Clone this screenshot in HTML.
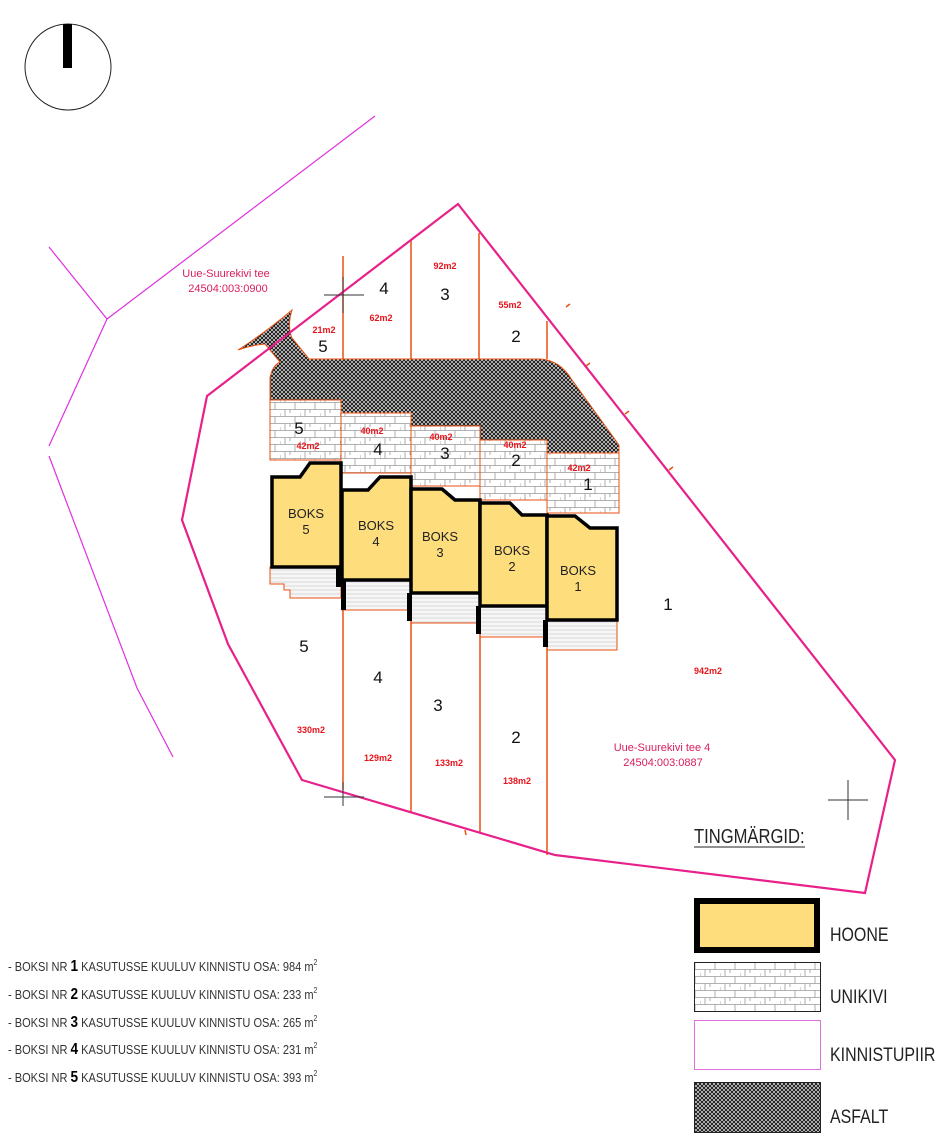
<!DOCTYPE html>
<html><head><meta charset="utf-8"><style>
html,body{margin:0;padding:0;background:#fff;}
svg{display:block;}
.n{font-family:"Liberation Sans",sans-serif;}
.r{font-family:"Liberation Sans",sans-serif;font-weight:bold;font-size:9px;fill:#e8141c;}
.d{font-family:"Liberation Sans",sans-serif;font-size:17px;fill:#111;}
.b{font-family:"Liberation Sans",sans-serif;font-size:13px;fill:#222;text-anchor:middle;}
</style></head><body>
<svg width="950" height="1141" viewBox="0 0 950 1141" xmlns="http://www.w3.org/2000/svg">
<defs>
<pattern id="uk" width="20" height="14" patternUnits="userSpaceOnUse">
<rect width="20" height="14" fill="#fff"/>
<path d="M0 3.5H20M0 10.5H20M5 3.5V10.5M15 0V3.5M15 10.5V14M10 3.5V7M0 7V10.5" stroke="#999" stroke-width="0.8" fill="none"/>
</pattern>
<pattern id="as" width="4" height="4" patternUnits="userSpaceOnUse">
<rect width="4" height="4" fill="#fff"/>
<path d="M0 0L4 4M4 0L0 4" stroke="#222" stroke-width="1.2"/>
</pattern>
<pattern id="st" width="6" height="4" patternUnits="userSpaceOnUse">
<rect width="6" height="4" fill="#f6f6f6"/><path d="M0 2H6" stroke="#ccc" stroke-width="0.7"/>
</pattern>
</defs>

<!-- north -->
<circle cx="68" cy="67" r="43" fill="none" stroke="#222" stroke-width="1"/>
<rect x="63" y="24" width="9" height="44" fill="#000"/>

<!-- neighbour lines -->
<g stroke="#e030e0" stroke-width="1.2" fill="none">
<polyline points="49,247 107,319 375,116"/>
<polyline points="107,319 49,446"/>
<polyline points="49,456 137,688 173,757"/>
</g>

<!-- asphalt -->
<path d="M238,350 Q266,332 292,310 Q287,326 292,338 L309,359 L540,359 Q560,360 572,380 L619,445 L619,453 L547,453 L547,440 L480,440 L480,426 L411,426 L411,413 L341,413 L341,400 L270,400 L270,378 Q272,366 280,362 L265,344 Q252,345 238,350 Z" fill="url(#as)" stroke="#e85010" stroke-width="1"/>

<!-- unikivi -->
<g fill="url(#uk)" stroke="#e85010" stroke-width="1">
<rect x="270" y="400" width="71" height="60"/>
<rect x="341" y="413" width="70" height="60"/>
<rect x="411" y="426" width="69" height="60"/>
<rect x="480" y="440" width="67" height="60"/>
<rect x="547" y="453" width="72" height="60"/>
</g>

<!-- stairs -->
<g fill="url(#st)" stroke="#e85010" stroke-width="1">
<path d="M270,567 H341 V598 H290 V590 H284 V584 H270 Z"/>
<path d="M342,580 H411 V610 H342 Z"/>
<path d="M411,593 H480 V623 H411 Z"/>
<path d="M480,606 H547 V637 H480 Z"/>
<path d="M547,620 H617 V650 H547 Z"/>
</g>
<g fill="#000">
<rect x="341" y="580" width="5" height="30"/><rect x="407" y="593" width="5" height="28"/>
<rect x="476" y="606" width="5" height="28"/><rect x="543" y="620" width="5" height="27"/>
<rect x="336" y="567" width="5" height="20"/>
</g>

<!-- buildings -->
<g fill="#fedd7d" stroke="#000" stroke-width="3.5" stroke-linejoin="miter">
<path d="M272,477 H300 L310,463 H341 V567 H272 Z"/>
<path d="M342,490 H368 L380,477 H411 V580 H342 Z"/>
<path d="M411,489 H442 L455,500 H480 V593 H411 Z"/>
<path d="M480,503 H510 L522,515 H547 V606 H480 Z"/>
<path d="M547,516 H575 L590,528 H617 V620 H547 Z"/>
</g>
<g class="b">
<text x="306" y="518">BOKS</text><text x="306" y="534">5</text>
<text x="376" y="530">BOKS</text><text x="376" y="546">4</text>
<text x="440" y="541">BOKS</text><text x="440" y="557">3</text>
<text x="512" y="555">BOKS</text><text x="512" y="571">2</text>
<text x="578" y="575">BOKS</text><text x="578" y="591">1</text>
</g>

<!-- orange dividers -->
<g stroke="#e85010" stroke-width="1.5">
<line x1="343" y1="256" x2="343" y2="359"/>
<line x1="411" y1="240" x2="411" y2="359"/>
<line x1="479" y1="233" x2="479" y2="359"/>
<line x1="547" y1="321" x2="547" y2="359"/>
<line x1="343" y1="610" x2="343" y2="790"/>
<line x1="411" y1="621" x2="411" y2="812"/>
<line x1="480" y1="634" x2="480" y2="833"/>
<line x1="547" y1="647" x2="547" y2="855"/>
<line x1="566" y1="307" x2="570" y2="304"/><line x1="586" y1="366" x2="590" y2="363"/>
<line x1="625" y1="414" x2="629" y2="411"/><line x1="669" y1="470" x2="673" y2="467"/>
<line x1="465" y1="830" x2="466" y2="835"/>
</g>

<!-- main parcel -->
<polygon points="458,204 895,760 865,893 555,855 302,780 228,644 182,520 207,396" fill="none" stroke="#e8208a" stroke-width="2.2"/>

<!-- crosses -->
<g stroke="#333" stroke-width="1">
<line x1="324" y1="295" x2="364" y2="295"/><line x1="343" y1="277" x2="343" y2="313"/>
<line x1="324" y1="797" x2="364" y2="797"/><line x1="343" y1="782" x2="343" y2="806"/>
<line x1="828" y1="800" x2="868" y2="800"/><line x1="848" y1="780" x2="848" y2="820"/>
</g>

<!-- labels -->
<g font-family="Liberation Sans, sans-serif" font-size="11" fill="#d81e5b" text-anchor="middle">
<text x="226" y="277">Uue-Suurekivi tee</text>
<text x="228" y="292">24504:003:0900</text>
<text x="662" y="751">Uue-Suurekivi tee 4</text>
<text x="663" y="766">24504:003:0887</text>
</g>
<g class="r" text-anchor="middle">
<text x="324" y="333">21m2</text><text x="381" y="321">62m2</text><text x="445" y="269">92m2</text><text x="510" y="308">55m2</text>
<text x="308" y="449">42m2</text><text x="372" y="434">40m2</text><text x="441" y="440">40m2</text><text x="515" y="448">40m2</text><text x="579" y="471">42m2</text>
<text x="311" y="733">330m2</text><text x="378" y="761">129m2</text><text x="449" y="766">133m2</text><text x="517" y="784">138m2</text><text x="708" y="674">942m2</text>
</g>
<g class="d" text-anchor="middle">
<text x="384" y="294">4</text><text x="445" y="300">3</text><text x="516" y="342">2</text><text x="323" y="352">5</text>
<text x="299" y="434">5</text><text x="378" y="455">4</text><text x="445" y="459">3</text><text x="516" y="466">2</text><text x="588" y="490">1</text>
<text x="304" y="652">5</text><text x="378" y="683">4</text><text x="438" y="711">3</text><text x="516" y="743">2</text><text x="668" y="610">1</text>
</g>

<!-- notes -->
<g class="n" font-size="13" fill="#333" transform="translate(8,0) scale(0.85,1)">
<text x="0" y="971">- BOKSI NR <tspan font-weight="bold" font-size="16" fill="#000">1</tspan> KASUTUSSE KUULUV KINNISTU OSA: 984 m<tspan font-size="8" dy="-6">2</tspan></text>
<text x="0" y="999">- BOKSI NR <tspan font-weight="bold" font-size="16" fill="#000">2</tspan> KASUTUSSE KUULUV KINNISTU OSA: 233 m<tspan font-size="8" dy="-6">2</tspan></text>
<text x="0" y="1027">- BOKSI NR <tspan font-weight="bold" font-size="16" fill="#000">3</tspan> KASUTUSSE KUULUV KINNISTU OSA: 265 m<tspan font-size="8" dy="-6">2</tspan></text>
<text x="0" y="1054">- BOKSI NR <tspan font-weight="bold" font-size="16" fill="#000">4</tspan> KASUTUSSE KUULUV KINNISTU OSA: 231 m<tspan font-size="8" dy="-6">2</tspan></text>
<text x="0" y="1082">- BOKSI NR <tspan font-weight="bold" font-size="16" fill="#000">5</tspan> KASUTUSSE KUULUV KINNISTU OSA: 393 m<tspan font-size="8" dy="-6">2</tspan></text>
</g>

<!-- legend -->
<g transform="translate(694,0) scale(0.83,1)">
<text class="n" x="0" y="843" font-size="20" fill="#222">TINGMÄRGID:</text>
</g>
<line x1="694" y1="847" x2="805" y2="847" stroke="#222" stroke-width="1"/>
<rect x="697" y="901" width="120" height="49" fill="#fedd7d" stroke="#000" stroke-width="6"/>
<rect x="694.5" y="962.5" width="126" height="49" fill="url(#uk)" stroke="#222" stroke-width="1"/>
<rect x="694.5" y="1020.5" width="126" height="49" fill="#fff" stroke="#e070e0" stroke-width="1"/>
<rect x="694.5" y="1082.5" width="126" height="50" fill="url(#as)" stroke="#222" stroke-width="1"/>
<g class="n" font-size="19" fill="#222" transform="translate(830,0) scale(0.84,1)">
<text x="0" y="941">HOONE</text>
<text x="0" y="1003">UNIKIVI</text>
<text x="0" y="1061">KINNISTUPIIR</text>
<text x="0" y="1123">ASFALT</text>
</g>
</svg>
</body></html>
